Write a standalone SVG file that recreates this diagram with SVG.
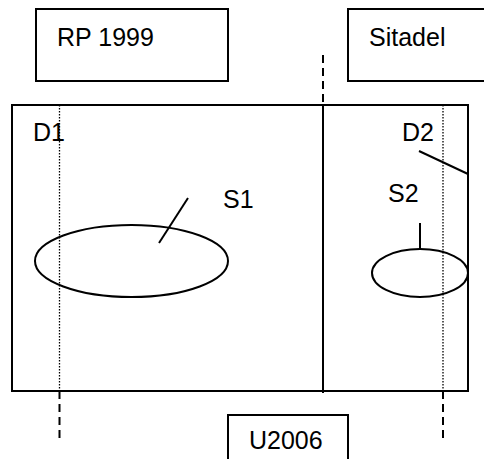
<svg xmlns="http://www.w3.org/2000/svg" width="484" height="459" viewBox="0 0 484 459">
<style>
.box{fill:#fff;stroke:#000;stroke-width:2}
.ln{fill:none;stroke:#000;stroke-width:2}
.dot{fill:none;stroke:#000;stroke-width:1.3;stroke-dasharray:1.5 1.5}
.dash{fill:none;stroke:#000;stroke-width:2;stroke-dasharray:8 5}
text{font-family:"Liberation Sans",Arial,sans-serif;font-size:25px;fill:#000}
</style>
<rect width="484" height="459" fill="#fff"/>
<g id="rp1999"><rect class="box" x="36" y="9" width="192" height="72"/><text x="57" y="46">RP 1999</text></g>
<g id="sitadel"><rect class="box" x="348" y="9" width="145" height="72"/><text x="369" y="46">Sitadel</text></g>
<g id="area"><rect class="box" x="12" y="105" width="456" height="286"/></g>
<g id="u2006"><rect class="box" x="228" y="415" width="120" height="60"/><text x="249" y="449">U2006</text></g>
<g id="connectors">
<line class="dash" x1="323" y1="55" x2="323" y2="105"/>
<line class="ln" x1="323" y1="105" x2="323" y2="393"/>
<line class="dot" x1="59.5" y1="105" x2="59.5" y2="391"/>
<line class="dash" x1="59.5" y1="391" x2="59.5" y2="439"/>
<line class="dot" x1="443" y1="105" x2="443" y2="391"/>
<line class="dash" x1="443" y1="391" x2="443" y2="439"/>
<line class="ln" x1="419" y1="151" x2="468" y2="174"/>
<line class="ln" x1="188" y1="198" x2="159" y2="243"/>
<line class="ln" x1="420" y1="223" x2="420" y2="248"/>
</g>
<g id="s1"><ellipse class="ln" cx="131.5" cy="261" rx="96.5" ry="36"/><text x="223" y="208">S1</text></g>
<g id="s2"><ellipse class="ln" cx="420" cy="273" rx="48" ry="24"/><text x="388" y="202">S2</text></g>
<g id="d1"><text x="33" y="141">D1</text></g>
<g id="d2"><text x="402" y="141">D2</text></g>
</svg>
